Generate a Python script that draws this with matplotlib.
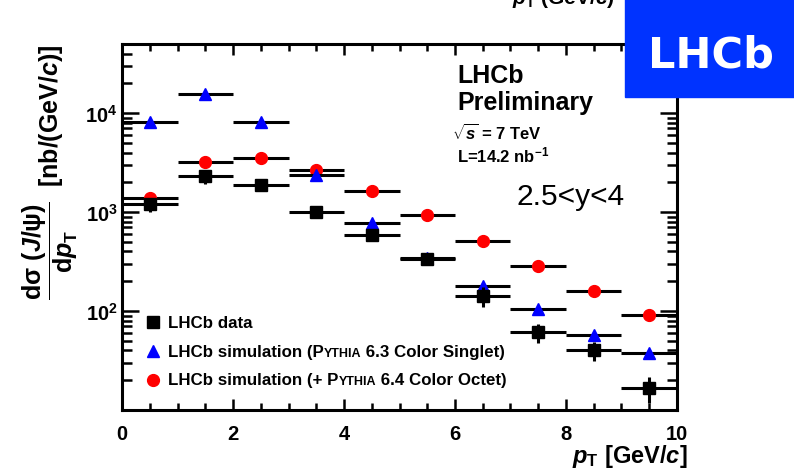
import numpy as np
import matplotlib
matplotlib.use('Agg')
import matplotlib.pyplot as plt
from matplotlib.patches import Rectangle
from matplotlib.ticker import MultipleLocator, LogLocator, NullFormatter

plt.rcParams['font.family'] = ['Liberation Sans', 'DejaVu Sans']
plt.rcParams['font.weight'] = 'bold'
plt.rcParams['mathtext.fontset'] = 'custom'
plt.rcParams['mathtext.rm'] = 'Liberation Sans:bold'
plt.rcParams['mathtext.it'] = 'Liberation Sans:bold:italic'
plt.rcParams['mathtext.bf'] = 'Liberation Sans:bold'
plt.rcParams['mathtext.sf'] = 'Liberation Sans:bold'

# pT bin centres, GeV/c (bins are 1 GeV/c wide)
pt = [0.5, 1.5, 2.5, 3.5, 4.5, 5.5, 6.5, 7.5, 8.5, 9.5]
bin_half = 0.5

# LHCb data, nb/(GeV/c)
data = [1200, 2300, 1870, 1000, 590, 335, 142, 61, 40, 16.7]
data_err = [200, 380, 230, 120, 70, 40, 33, 13, 9, 5]

# PYTHIA 6.3 colour singlet
singlet = [8100, 15600, 8100, 2360, 775, 340, 179, 105, 57, 37.7]

# + PYTHIA 6.4 colour octet
octet = [1380, 3200, 3500, 2650, 1630, 935, 510, 285, 159, 91]

ytick_vals = [1e2, 1e3, 1e4]
ytick_labels = [r'$10^{2}$', r'$10^{3}$', r'$10^{4}$']

fig = plt.figure(figsize=(7.94, 4.77), dpi=100)
ax = fig.add_axes([0.1537, 0.1384, 0.6989, 0.7673])

ax.errorbar(pt, octet, xerr=bin_half, fmt='o', color='red', ms=8.5,
            ecolor='black', elinewidth=2.2, capsize=0, zorder=3)
ax.errorbar(pt, singlet, xerr=bin_half, fmt='^', color='blue', ms=9,
            ecolor='black', elinewidth=2.2, capsize=0, zorder=4)
ax.errorbar(pt, data, xerr=bin_half, yerr=data_err, fmt='s', color='black', ms=8,
            ecolor='black', elinewidth=2.2, capsize=0, zorder=5)

ax.set_xlim(0, 10)
ax.set_yscale('log')
ax.set_ylim(10, 5e4)
ax.xaxis.set_major_locator(MultipleLocator(2))
ax.xaxis.set_minor_locator(MultipleLocator(0.5))
ax.set_yticks(ytick_vals)
ax.set_yticklabels(ytick_labels)
ax.yaxis.set_minor_locator(LogLocator(base=10, subs=np.arange(2, 10)))
ax.yaxis.set_minor_formatter(NullFormatter())

for sp in ax.spines.values():
    sp.set_linewidth(2.2)
ax.tick_params(which='both', direction='in', top=True, right=True, width=1.8)
ax.tick_params(axis='x', which='major', length=8, labelsize=14.5, pad=10)
ax.tick_params(axis='x', which='minor', length=5)
ax.tick_params(axis='y', which='major', length=12, labelsize=14.5, pad=3)
ax.tick_params(axis='y', which='minor', length=7)

# axis titles
fig.text(688/794, 1 - 463/477, r'$p_{\mathrm{T}}$ [GeV/$c$]', fontsize=17,
         ha='right', va='baseline')
fig.text(50/794, 1 - 45/477,
         r'$\dfrac{\mathrm{d}\mathrm{\sigma}\ (J/\mathrm{\psi})}{\mathrm{d}p_{\mathrm{T}}}$  [nb/(GeV/$c$)]',
         fontsize=18, rotation=90, ha='center', va='top')

# title leftover cut at the top
fig.text(512/794, 1 - 4/477, r'$p_{\mathrm{T}}$ (GeV/$c$)', fontsize=15, va='baseline')

# labels inside the frame
fig.text(457/794, 1 - 83/477, 'LHCb', fontsize=18, va='baseline')
fig.text(457/794, 1 - 110/477, 'Preliminary', fontsize=18, va='baseline')
fig.text(452/794, 1 - 140/477, r'$\sqrt{s}$ = 7 TeV', fontsize=12, va='baseline')
fig.text(457/794, 1 - 162/477, r'L=14.2 nb$^{\mathrm{-1}}$', fontsize=12, va='baseline')
fig.text(517/794, 1 - 205/477, '2.5<y<4', fontsize=21.5, fontweight='normal', va='baseline')


def rich_text(x, y, pieces):
    t = ax.text(x, y, pieces[0][0], fontsize=pieces[0][1], transform=ax.transAxes,
                va='center')
    for s, size in pieces[1:]:
        t = ax.annotate(s, xy=(1, 0), xycoords=t, fontsize=size, va='bottom')


leg_rows = [0.240, 0.161, 0.082]
ax.plot([0.056], [leg_rows[0]], 's', color='black', ms=8, transform=ax.transAxes)
ax.plot([0.056], [leg_rows[1]], '^', color='blue', ms=9, transform=ax.transAxes)
ax.plot([0.056], [leg_rows[2]], 'o', color='red', ms=8.5, transform=ax.transAxes)
rich_text(0.083, leg_rows[0], [('LHCb data', 12.2)])
rich_text(0.083, leg_rows[1], [('LHCb simulation (P', 12.2), ('YTHIA', 9),
                               (' 6.3 Color Singlet)', 12.2)])
rich_text(0.083, leg_rows[2], [('LHCb simulation (+ P', 12.2), ('YTHIA', 9),
                               (' 6.4 Color Octet)', 12.2)])

# LHCb logo box
fig.add_artist(Rectangle((625/794, 1 - 98/477), 1 - 625/794, 98/477,
                         transform=fig.transFigure, color='#0033ff', zorder=10))
fig.text(711/794, 1 - 55/477, 'LHCb', color='white', fontsize=31,
         family='DejaVu Sans', fontweight='bold', ha='center', va='center', zorder=11)

fig.savefig('out.png', dpi=100)
